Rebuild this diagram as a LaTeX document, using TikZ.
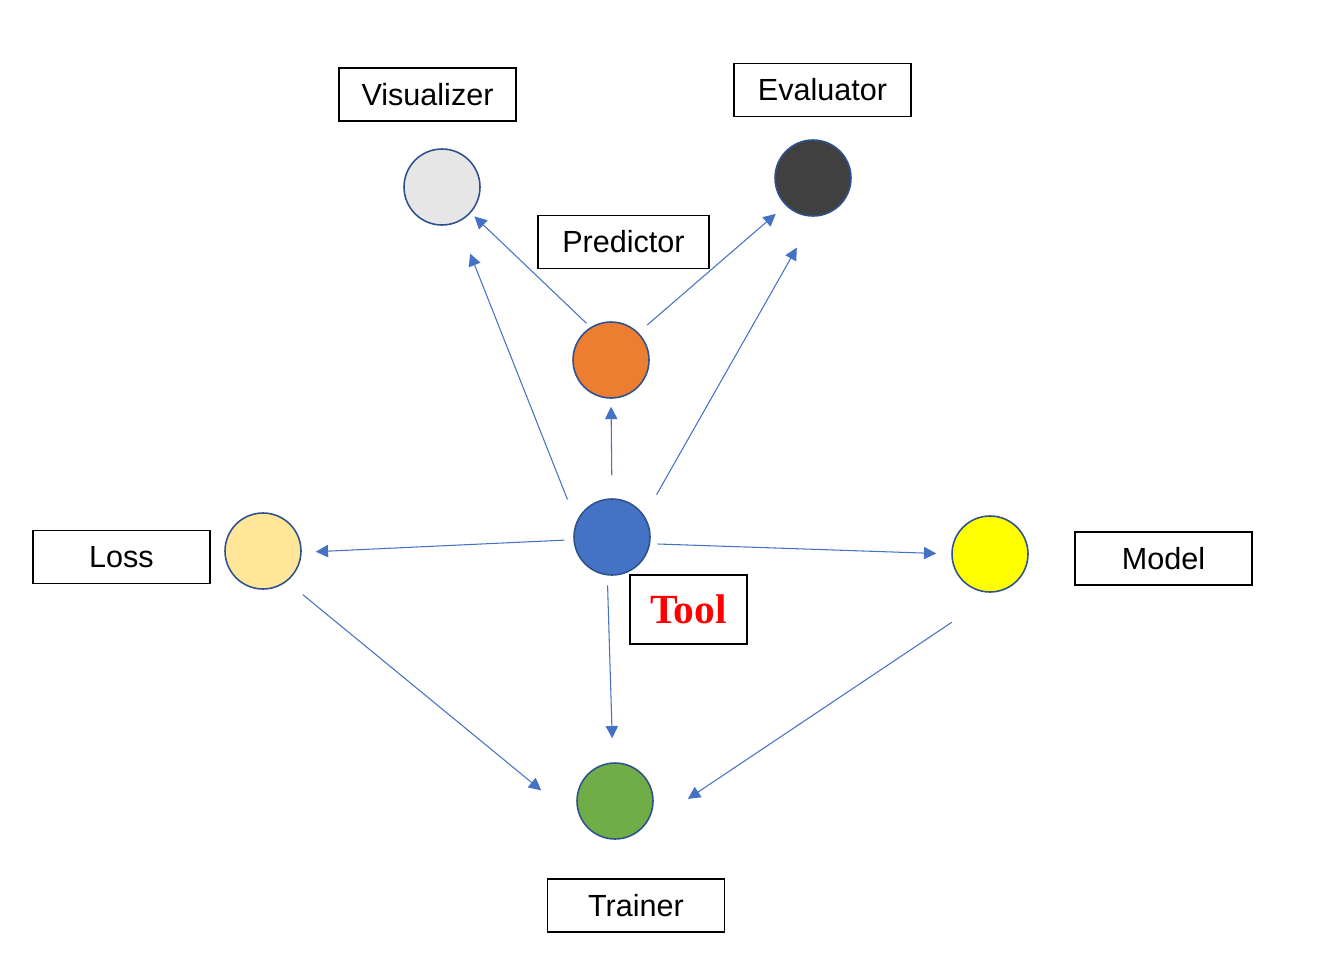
\documentclass[tikz,border=0pt]{standalone}
\usepackage{fontspec}
\setmainfont{Liberation Sans}
\newfontfamily\toolfont{Liberation Serif}
\usetikzlibrary{arrows.meta}
\definecolor{linkblue}{HTML}{4472C4}
\definecolor{ringblue}{HTML}{2F528F}
\definecolor{visgray}{HTML}{E7E6E6}
\definecolor{evaldark}{HTML}{404040}
\definecolor{predorange}{HTML}{ED7D31}
\definecolor{losscream}{HTML}{FFE699}
\definecolor{modelyellow}{HTML}{FFFF00}
\definecolor{traingreen}{HTML}{70AD47}

\begin{document}
\begin{tikzpicture}[x=0.02cm,y=-0.02cm,
    ball/.style={circle,draw=ringblue,line width=0.9pt,minimum size=1.52cm,inner sep=0pt},
    tag/.style={draw=black,line width=1.1pt,minimum width=3.54cm,minimum height=1.06cm,
      inner sep=0pt,font=\fontsize{17.4}{20}\selectfont},
    link/.style={draw=linkblue,line width=0.6pt,-{Triangle[length=7pt,width=7pt]}}]
    \useasboundingbox (0,0) rectangle (1338,960);
    % circles
    \node[ball,fill=visgray] (vis) at (442,187) {};
    \node[ball,fill=evaldark] (eval) at (813,178) {};
    \node[ball,fill=predorange] (pred) at (611,360) {};
    \node[ball,fill=linkblue] (tool) at (612,537) {};
    \node[ball,fill=losscream] (loss) at (263,551) {};
    \node[ball,fill=modelyellow] (model) at (990,554) {};
    \node[ball,fill=traingreen] (train) at (615,801) {};
    % labels
    \node[tag] (visl) at (427.5,94.5) {Visualizer};
    \node[tag] (evall) at (822.5,90) {Evaluator};
    \node[tag,minimum width=3.42cm] (predl) at (623.5,242) {Predictor};
    \node[tag] (lossl) at (121.5,557) {Loss};
    \node[tag] (modell) at (1163.5,558.5) {Model};
    \node[tag] (trainl) at (636,905.5) {Trainer};
    \node[tag,minimum width=2.34cm,minimum height=1.38cm,
      font=\toolfont\bfseries\fontsize{23.6}{26}\selectfont,text=red] (tooll) at (688.5,609.5) {Tool};
    % connectors
    \foreach \a/\sa/\b/\eb/\ss/\se in {
        tool/157/vis/-66/0.48/0.67,
        pred/122/vis/-42/0.11/0.10,
        pred/45/eval/-135/0.23/0.26,
        tool/33/eval/-88/0.49/0.71,
        tool/90/pred/-90/0.46/0.16,
        tool/184/loss/-2/0.18/0.28,
        tool/-10/model/180/0.15/0.30,
        tool/-97/train/93/0.20/0.48,
        loss/-52/train/225/0.41/1.20,
        model/-80/train/-55/1.08/1.22}
      \draw[link,shorten <=\ss cm,shorten >=\se cm] (\a.\sa) -- (\b.\eb);
  \end{tikzpicture}
\end{document}
